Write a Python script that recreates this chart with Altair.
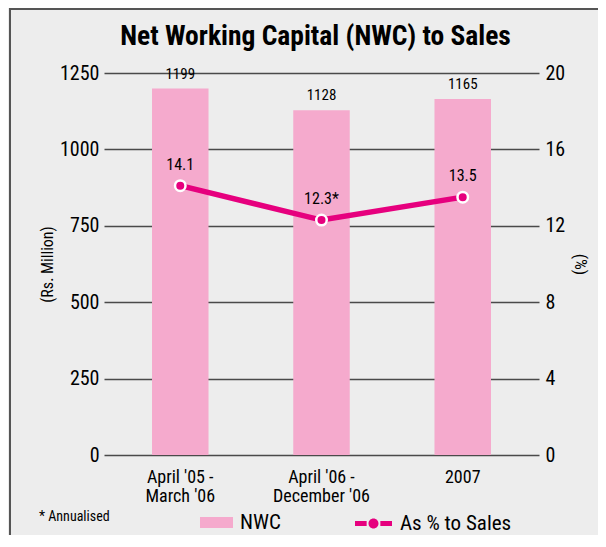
import altair as alt
import pandas as pd

# ---- data ----
categories = ["April '05 -\nMarch '06", "April '06 -\nDecember '06", "2007"]
nwc = [1199, 1128, 1165]
pct = [14.1, 12.3, 13.5]
pct_note = ["", "*", ""]
left_ticks = [0, 250, 500, 750, 1000, 1250]
right_ticks = [0, 4, 8, 12, 16, 20]
bar_series = ["NWC"]
line_series = ["As % to Sales"]
footnote = ["* Annualised"]

FONT = "Roboto Condensed, Liberation Sans Narrow, Arial Narrow, DejaVu Sans Condensed, Roboto, sans-serif"
PINK = "#F5AACD"
MAGENTA = "#E6007E"
GRID = "#4a4a4a"

W, H = 435, 382
PAD = {"left": 96, "top": 65, "right": 59, "bottom": 80}

df = pd.DataFrame({
    "period": categories,
    "nwc": nwc,
    "pct": pct,
    "note": pct_note,
    "bar_series": bar_series * 3,
    "line_series": line_series * 3,
})

base = alt.Chart(df)

x_enc = alt.X(
    "period:N",
    sort=categories,
    scale=alt.Scale(paddingInner=0.6, paddingOuter=0.34),
    axis=alt.Axis(
        title=None, labelAngle=0, labelExpr="split(datum.value, '\\n')",
        labelFont=FONT, labelFontSize=18, labelLineHeight=19, labelColor="black",
        labelPadding=13, ticks=False, tickSize=0, domain=False, grid=False,
    ),
)

y_left = alt.Y(
    "nwc:Q",
    scale=alt.Scale(domain=[0, 1250], nice=False, zero=True),
    axis=alt.Axis(
        values=left_ticks, format="d", title="(Rs. Million)", grid=True, gridColor=GRID,
        gridWidth=1.3, gridOpacity=1, ticks=False, tickSize=0, domain=False,
        labelFont=FONT, labelFontSize=20, labelColor="black", labelPadding=5,
        titleFont=FONT, titleFontSize=16, titleFontWeight="normal", titleColor="black",
        titlePadding=4,
    ),
)

y_right = alt.Y(
    "pct:Q",
    scale=alt.Scale(domain=[0, 20], nice=False, zero=True),
    axis=alt.Axis(
        orient="right", values=right_ticks, format="d", title="(%)", grid=False,
        ticks=False, tickSize=0, domain=False,
        labelFont=FONT, labelFontSize=20, labelColor="black", labelPadding=6,
        titleFont=FONT, titleFontSize=17, titleFontWeight="normal", titleColor="black",
        titlePadding=6,
    ),
)

bars = base.mark_bar().encode(
    x=x_enc,
    y=y_left,
    fill=alt.Fill(
        "bar_series:N",
        scale=alt.Scale(domain=bar_series, range=[PINK]),
        legend=alt.Legend(
            title=None, orient="none", legendX=96, legendY=433,
            symbolType="M-1,-0.33H1V0.33H-1Z", symbolSize=1089,
            symbolStrokeWidth=0, labelFont=FONT, labelFontSize=21,
            labelColor="black", labelOffset=7, padding=0,
        ),
    ),
)

bar_text = base.mark_text(
    baseline="bottom", dy=-7, font=FONT, fontSize=15, color="black"
).encode(x=x_enc, y=y_left, text=alt.Text("nwc:Q", format="d"))

line = base.mark_line(strokeWidth=5.5).encode(
    x=x_enc,
    y=y_right,
    stroke=alt.Stroke(
        "line_series:N",
        scale=alt.Scale(domain=line_series, range=[MAGENTA]),
        legend=alt.Legend(
            title=None, orient="none", legendX=251, legendY=432,
            symbolType=(
                "M-1,-0.14H-0.37V0.14H-1Z "
                "M0.37,-0.14H1V0.14H0.37Z "
                "M0.27,0A0.27,0.27 0 1 1 -0.27,0A0.27,0.27 0 1 1 0.27,0Z"
            ),
            symbolSize=1369, symbolFillColor=MAGENTA, symbolStrokeWidth=0,
            labelFont=FONT, labelFontSize=21, labelColor="black",
            labelOffset=8, padding=0,
        ),
    ),
)

points = base.mark_circle(
    size=110, opacity=1, color=MAGENTA, stroke="white", strokeWidth=2.5
).encode(x=x_enc, y=y_right)

point_text = base.transform_calculate(
    lbl="format(datum.pct, '.1f') + datum.note"
).mark_text(
    baseline="bottom", dy=-13, font=FONT, fontSize=16, color="black"
).encode(x=x_enc, y=y_right, text="lbl:N")

note = alt.Chart(pd.DataFrame({"note": footnote})).mark_text(
    align="left", baseline="middle", font=FONT, fontSize=14, color="black"
).encode(x=alt.value(-65), y=alt.value(444), text="note:N")

frame_left = alt.Chart(pd.DataFrame({"k": [0]})).mark_rule(
    color="#555555", strokeWidth=2
).encode(x=alt.value(-94), y=alt.value(-65), y2=alt.value(H + PAD["bottom"]))

frame_top = alt.Chart(pd.DataFrame({"k": [0]})).mark_rule(
    color="#555555", strokeWidth=2
).encode(x=alt.value(-95), x2=alt.value(W + PAD["right"]), y=alt.value(-64))

left_layer = alt.layer(bars, bar_text)
right_layer = alt.layer(line, points, point_text)

chart = alt.layer(
    left_layer, right_layer, note, frame_left, frame_top
).resolve_scale(
    y="independent", fill="independent", stroke="independent"
).properties(
    width=W,
    height=H,
    background="#ededed",
    padding=PAD,
    autosize=alt.AutoSizeParams(type="none"),
    title=alt.TitleParams(
        "Net Working Capital (NWC) to Sales", font=FONT, fontSize=27.5,
        fontWeight="bold", color="black", anchor="middle", baseline="alphabetic",
        offset=-39, dx=-6, dy=26,
    ),
).configure_view(stroke=None)

chart.save("out.html", embed_options={"renderer": "svg", "actions": False})
